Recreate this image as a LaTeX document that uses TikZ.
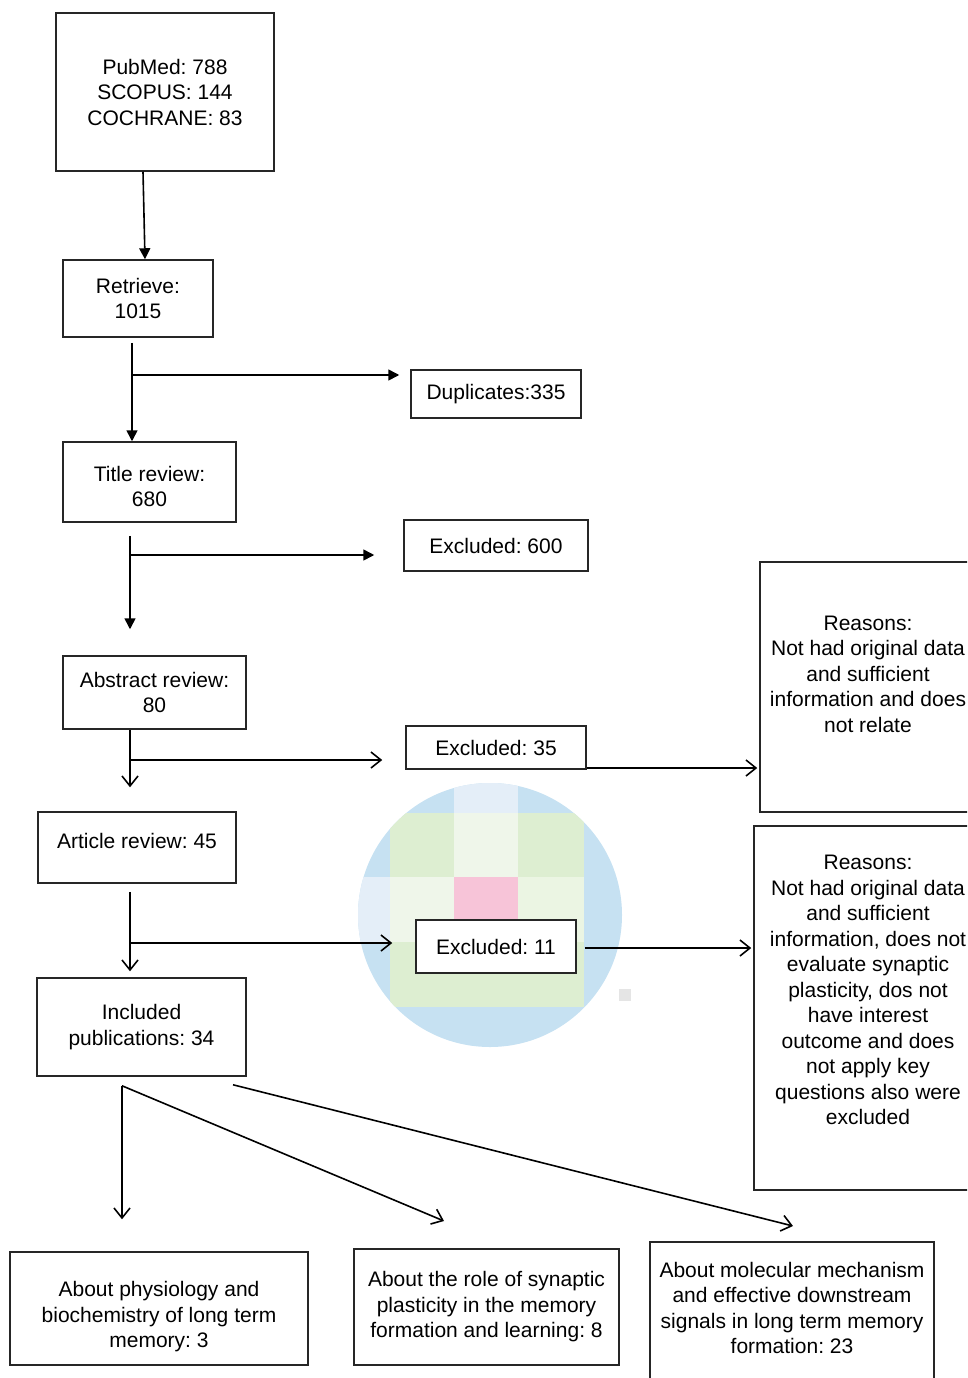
\documentclass[tikz,border=0pt]{standalone}
\usepackage{fontspec}
\setmainfont{Liberation Sans}
\usetikzlibrary{arrows.meta}
\frenchspacing
\definecolor{wmblue}{HTML}{C6E1F2}
\definecolor{wmpale}{HTML}{E4EEF8}
\definecolor{wmgreen}{HTML}{DDEED1}
\definecolor{wmlight}{HTML}{EFF6EA}
\definecolor{wmpink}{HTML}{F7C4D8}
\begin{document}
\begin{tikzpicture}[x=1pt,y=-1pt,
		box/.style={draw=black!85,line width=1.5pt,fill=white,align=center,inner sep=0pt,
			font=\fontsize{21}{25.5}\selectfont},
		fillarr/.style={line width=1.6pt,-{Triangle[length=11pt,width=11pt]}},
		openarr/.style={line width=1.6pt,-{Straight Barb[length=10pt,width=16pt,line width=1.6pt]}}]
		\useasboundingbox (0,0) rectangle (967,1378);
		\clip (0,0) rectangle (967,1378);
		
		% blurred mark behind the last excluded box
		\begin{scope}
		\clip (490,915) circle (132);
		\fill[wmblue] (350,780) rectangle (630,1050);
		\fill[wmpale] (454,780) rectangle (518,813);
		\fill[wmpale] (350,877) rectangle (390,942);
		\fill[wmgreen] (390,813) rectangle (584,1007);
		\fill[wmlight] (454,813) rectangle (518,877);
		\fill[wmlight] (390,877) rectangle (454,942);
		\fill[wmgreen!60!white] (518,877) rectangle (584,942);
		\fill[wmpink] (454,877) rectangle (518,942);
		\end{scope}
		\fill[black!10] (619,989) rectangle (631,1001);
		
		% left column
		\node[box,minimum width=218pt,minimum height=158pt] (src) at (165,92) {PubMed: 788\\SCOPUS: 144\\COCHRANE: 83};
		\node[box,minimum width=150pt,minimum height=77pt] (ret) at (138,298.5) {Retrieve:\\1015};
		\node[box,minimum width=173pt,minimum height=80pt] (title) at (149.5,482) {\strut\\[-19pt]Title review:\\680};
		\node[box,minimum width=183pt,minimum height=73pt] (abs) at (154.5,692.5) {Abstract review:\\80};
		\node[box,minimum width=198pt,minimum height=71pt] (art) at (137,847.5) {Article review: 45\\[-11.5pt]\mbox{}};
		\node[box,minimum width=209pt,minimum height=98pt] (inc) at (141.5,1027) {Included\\publications: 34};
		
		% excluded records
		\node[box,minimum width=170pt,minimum height=48pt] (dup) at (496,394) {Duplicates:335};
		\node[box,minimum width=184pt,minimum height=51pt] (ex600) at (496,545.5) {Excluded: 600};
		\node[box,minimum width=180pt,minimum height=43pt] (ex35) at (496,747.5) {Excluded: 35};
		\node[box,minimum width=160pt,minimum height=53pt] (ex11) at (496,946.5) {Excluded: 11};
		
		% reasons
		\node[box,minimum width=216pt,minimum height=250pt] (rea1) at (868,687)
		{Reasons:\\Not had original data\\and sufficient\\information and does\\not relate\\\mbox{}};
		\node[box,minimum width=228pt,minimum height=364pt] (rea2) at (868,1008)
		{Reasons:\\Not had original data\\and sufficient\\information, does not\\evaluate synaptic\\plasticity, dos not\\have interest\\outcome and does\\not apply key\\questions also were\\excluded\\[10pt]\mbox{}};
		
		% topics
		\node[box,minimum width=298pt,minimum height=113pt] (bot1) at (159,1308.5)
		{\strut\\[-12pt]About physiology and\\biochemistry of long term\\memory: 3};
		\node[box,minimum width=265pt,minimum height=116pt] (bot2) at (486.5,1307)
		{About the role of synaptic\\plasticity in the memory\\formation and learning: 8};
		\node[box,minimum width=284pt,minimum height=150pt] (bot3) at (792,1317)
		{About molecular mechanism\\and effective downstream\\signals in long term memory\\formation: 23\\[-7.5pt]\mbox{}};
		
		% connectors
		\draw[fillarr] ([xshift=-22pt]src.south) -- ([xshift=7pt]ret.north);
		
		\coordinate (j1) at (132,375);
		\draw[fillarr] ([yshift=-5pt]ret.south -| j1) -- (title.north -| j1);
		\draw[fillarr,shorten >=11pt] (j1) -- (dup.west |- j1);
		
		\coordinate (j2) at (130,555);
		\draw[fillarr,shorten >=26pt] ([yshift=-13pt]title.south -| j2) -- (abs.north -| j2);
		\draw[fillarr,shorten >=29pt] (j2) -- (ex600.west |- j2);
		
		\coordinate (j3) at (130,760);
		\draw[openarr,shorten >=24pt] (abs.south -| j3) -- (art.north -| j3);
		\draw[openarr,shorten >=23pt] (j3) -- (ex35.west |- j3);
		\draw[openarr,shorten >=2pt] ([yshift=-20.5pt]ex35.east) -- ([yshift=-20.5pt]ex35.east -| rea1.west);
		
		\coordinate (j4) at (130,943);
		\draw[openarr,shorten >=6pt] ([yshift=-8pt]art.south -| j4) -- (inc.north -| j4);
		\draw[openarr,shorten >=23pt] (j4) -- (ex11.west |- j4);
		\draw[openarr,shorten <=8pt,shorten >=2pt] ([yshift=-1.5pt]ex11.east) -- ([yshift=-1.5pt]ex11.east -| rea2.west);
		
		\coordinate (s1) at ([xshift=-19.5pt,yshift=-9pt]inc.south);
		\coordinate (s2) at ([xshift=91.5pt,yshift=-8pt]inc.south);
		\coordinate (t2) at (444,1221);
		\coordinate (t3) at (793,1226);
		\draw[openarr,shorten >=32pt] (s1) -- (s1 |- bot1.north);
		\draw[openarr] (s1) -- (t2);
		\draw[openarr] (s2) -- (t3);
		\end{tikzpicture}
\end{document}
